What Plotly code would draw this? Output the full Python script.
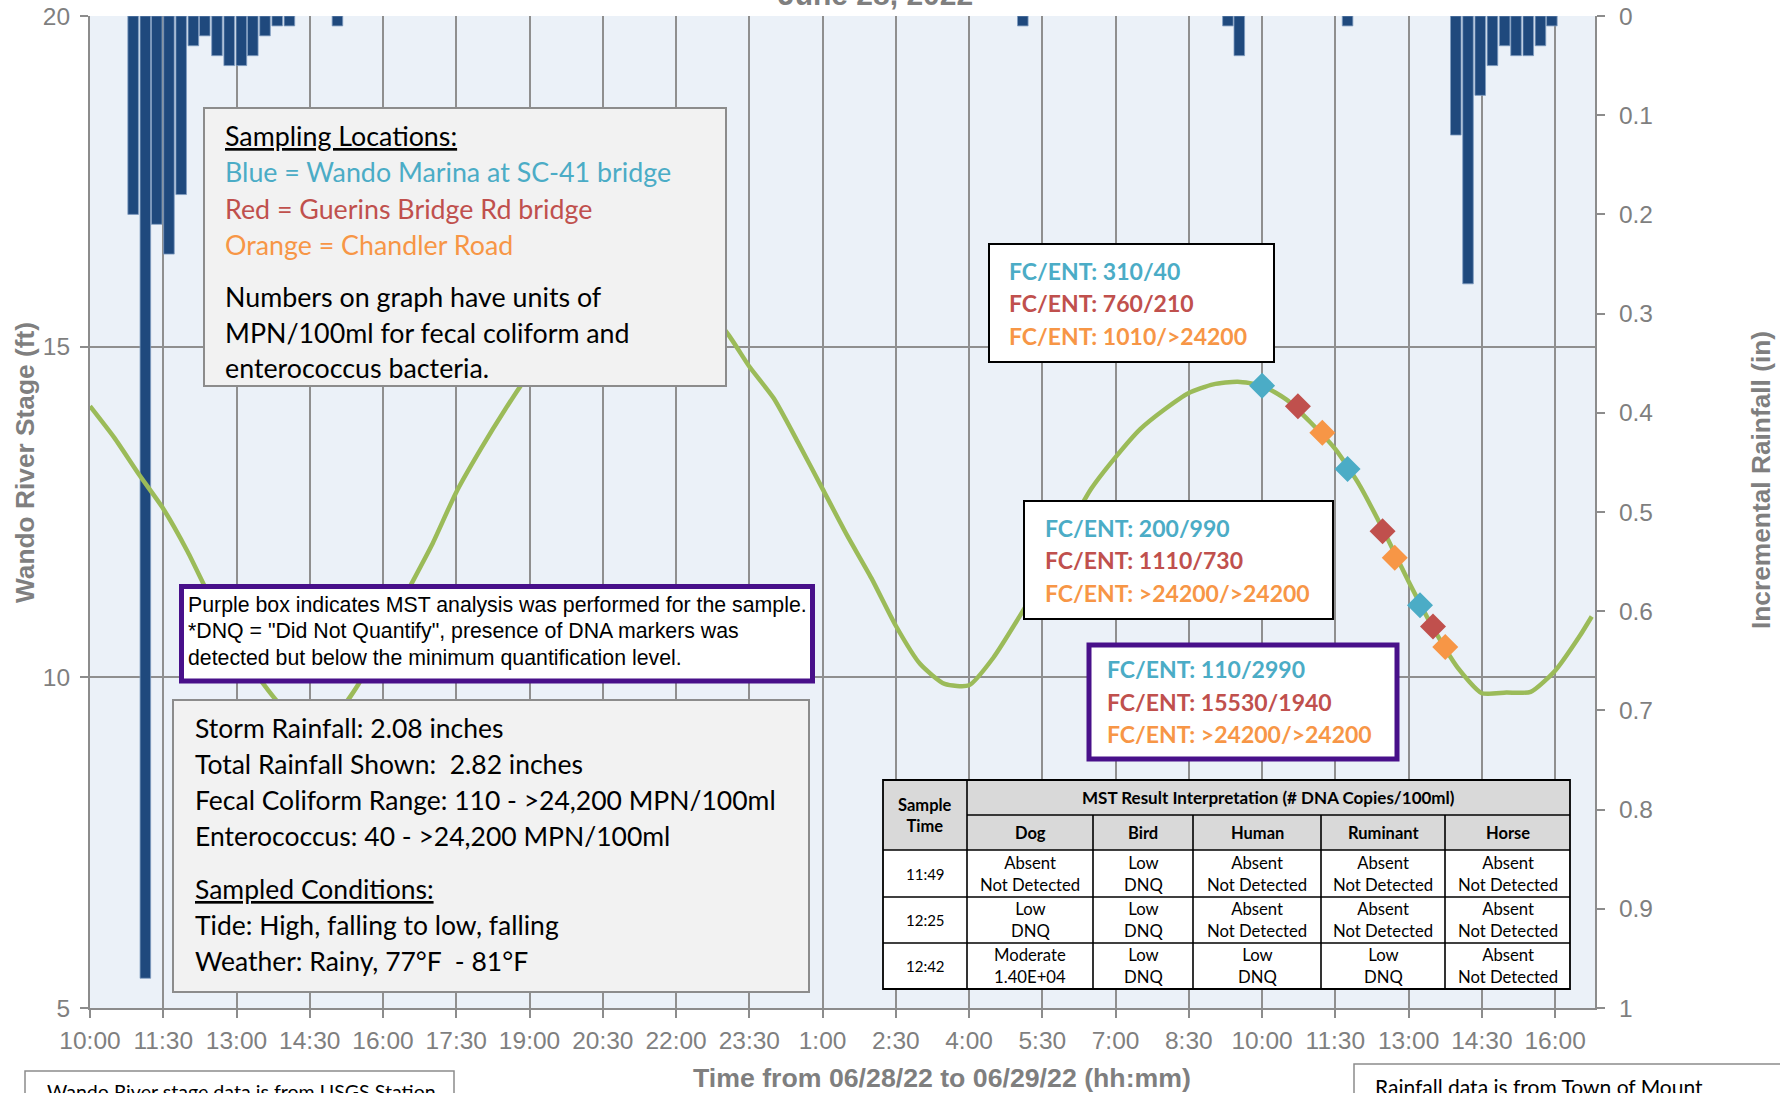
import plotly.graph_objects as go
import pandas as pd

# ---------------- data ----------------
DAY1, DAY2 = "2022-06-28", "2022-06-29"

stage_clock_day1 = ["10:00", "10:30", "11:00", "11:30", "12:00", "12:30", "13:00", "13:30",
                    "14:00", "14:30", "15:00", "15:30", "16:00", "16:30", "17:00", "17:30",
                    "18:00", "18:30", "19:00", "19:30", "20:00", "20:30", "21:00", "21:30",
                    "22:00", "22:30", "23:00", "23:30"]
stage_ft_day1 = [14.10, 13.62, 13.07, 12.55, 11.90, 11.15, 10.50, 9.95,
                 9.50, 9.25, 9.40, 9.90, 10.60, 11.30, 12.00, 12.80,
                 13.45, 14.05, 14.60, 15.05, 15.45, 15.70, 15.85, 15.85,
                 15.75, 15.55, 15.25, 14.70]
stage_clock_day2 = ["00:00", "00:30", "01:00", "01:30", "02:00", "02:30", "03:00", "03:30",
                    "04:00", "04:30", "05:00", "05:30", "06:00", "06:30", "07:00", "07:30",
                    "08:00", "08:30", "09:00", "09:30", "10:00", "10:30", "11:00", "11:30",
                    "12:00", "12:30", "13:00", "13:30", "14:00", "14:30", "15:00", "15:30",
                    "16:00", "16:30", "16:45"]
stage_ft_day2 = [14.22, 13.55, 12.85, 12.15, 11.50, 10.78, 10.20, 9.90,
                 9.88, 10.30, 10.88, 11.50, 12.20, 12.85, 13.33, 13.75,
                 14.05, 14.30, 14.43, 14.47, 14.41, 14.20, 13.85, 13.45,
                 12.90, 12.20, 11.45, 10.75, 10.15, 9.76, 9.77, 9.78,
                 10.10, 10.62, 10.92]

rain_clock_day1 = ["10:53", "11:08", "11:22", "11:37", "11:52", "12:07", "12:21", "12:36",
                   "12:51", "13:06", "13:20", "13:35", "13:50", "14:05", "15:04"]
rain_in_day1 = [0.20, 0.97, 0.21, 0.24, 0.18, 0.03, 0.02, 0.04,
                0.05, 0.05, 0.04, 0.02, 0.01, 0.01, 0.01]
rain_clock_day2 = ["05:06", "09:18", "09:32", "11:45", "13:58", "14:13", "14:28", "14:43",
                   "14:58", "15:12", "15:27", "15:42", "15:56"]
rain_in_day2 = [0.01, 0.01, 0.04, 0.01, 0.12, 0.27, 0.08, 0.05,
                0.03, 0.04, 0.04, 0.03, 0.01]

blue_clock = ["10:00", "11:45", "13:14"]
blue_ft = [14.41, 13.15, 11.09]
red_clock = ["10:44", "12:28", "13:30"]
red_ft = [14.10, 12.21, 10.77]
orange_clock = ["11:14", "12:43", "13:45"]
orange_ft = [13.70, 11.81, 10.46]

x_tick_labels = ["10:00", "11:30", "13:00", "14:30", "16:00", "17:30", "19:00", "20:30",
                 "22:00", "23:30", "1:00", "2:30", "4:00", "5:30", "7:00", "8:30",
                 "10:00", "11:30", "13:00", "14:30", "16:00"]
stage_ticks = [5, 10, 15, 20]
rain_ticks = [0, 0.1, 0.2, 0.3, 0.4, 0.5, 0.6, 0.7, 0.8, 0.9, 1]
rain_tick_labels = ["0", "0.1", "0.2", "0.3", "0.4", "0.5", "0.6", "0.7", "0.8", "0.9", "1"]

fc_ent_set1 = ["FC/ENT: 310/40", "FC/ENT: 760/210", "FC/ENT: 1010/>24200"]
fc_ent_set2 = ["FC/ENT: 200/990", "FC/ENT: 1110/730", "FC/ENT: >24200/>24200"]
fc_ent_set3 = ["FC/ENT: 110/2990", "FC/ENT: 15530/1940", "FC/ENT: >24200/>24200"]

legend_lines = ["<u>Sampling Locations:</u>", "Blue = Wando Marina at SC-41 bridge",
                "Red = Guerins Bridge Rd bridge", "Orange = Chandler Road",
                "Numbers on graph have units of", "MPN/100ml for fecal coliform and",
                "enterococcus bacteria."]
summary_lines = ["Storm Rainfall: 2.08 inches", "Total Rainfall Shown:  2.82 inches",
                 "Fecal Coliform Range: 110 - >24,200 MPN/100ml",
                 "Enterococcus: 40 - >24,200 MPN/100ml", "<u>Sampled Conditions:</u>",
                 "Tide: High, falling to low, falling", "Weather: Rainy, 77\u00b0F  - 81\u00b0F"]
mst_note_lines = ["Purple box indicates MST analysis was performed for the sample.",
                  "*DNQ = \"Did Not Quantify\", presence of DNA markers was",
                  "detected but below the minimum quantification level."]

table_title = "MST Result Interpretation (# DNA Copies/100ml)"
table_cols = ["Dog", "Bird", "Human", "Ruminant", "Horse"]
table_times = ["11:49", "12:25", "12:42"]
table_level = [["Absent", "Low", "Absent", "Absent", "Absent"],
               ["Low", "Low", "Absent", "Absent", "Absent"],
               ["Moderate", "Low", "Low", "Low", "Absent"]]
table_detail = [["Not Detected", "DNQ", "Not Detected", "Not Detected", "Not Detected"],
                ["DNQ", "DNQ", "Not Detected", "Not Detected", "Not Detected"],
                ["1.40E+04", "DNQ", "DNQ", "DNQ", "Not Detected"]]

# ---------------- styles / layout helpers ----------------
W, H = 1780, 1093
L, T, PW, PH = 90, 16, 1505, 992
BLUE, RED, ORANGE, PURPLE = "#4BACC6", "#C0504D", "#F79646", "#48108A"
GREEN, BAR = "#9BBB59", "#1F497D"
GRID, AXC, TXT = "#8F8F8F", "#8C8C8C", "#7F7F7F"
ARIAL = "Liberation Sans, Arial, sans-serif"
CAL = "Lato, Carlito, Calibri, sans-serif"


def X(px):
    return (px - L) / PW


def Y(py):
    return (T + PH - py) / PH


def stamp(day, clocks):
    return [f"{day} {c}" for c in clocks]


stage_x = stamp(DAY1, stage_clock_day1) + stamp(DAY2, stage_clock_day2)
stage_y = stage_ft_day1 + stage_ft_day2
rain_x = stamp(DAY1, rain_clock_day1) + stamp(DAY2, rain_clock_day2)
rain_y = rain_in_day1 + rain_in_day2
x_tickvals = pd.date_range(f"{DAY1} 10:00", periods=len(x_tick_labels), freq="90min")

fig = go.Figure()
fig.add_trace(go.Bar(x=rain_x, y=rain_y, yaxis="y", width=13 * 60 * 1000,
                     marker=dict(color=BAR, line=dict(color="#7F9CC0", width=0.8)),
                     hoverinfo="skip"))
fig.add_trace(go.Scatter(x=stage_x, y=stage_y, yaxis="y2", mode="lines",
                         line=dict(color=GREEN, width=4.5, shape="spline", smoothing=0.6),
                         hoverinfo="skip"))
for color, clocks, vals in [(BLUE, blue_clock, blue_ft), (RED, red_clock, red_ft),
                            (ORANGE, orange_clock, orange_ft)]:
    fig.add_trace(go.Scatter(x=stamp(DAY2, clocks), y=vals, yaxis="y2", mode="markers",
                             marker=dict(symbol="diamond", size=20, color=color),
                             hoverinfo="skip"))

shapes = []
annotations = []


def box(x0, y0, x1, y1, fill, line_color, lw):
    shapes.append(dict(type="rect", xref="paper", yref="paper",
                       x0=X(x0), x1=X(x1), y0=Y(y1), y1=Y(y0),
                       fillcolor=fill, line=dict(color=line_color, width=lw), layer="above"))


def text(px, py, s, size, color="black", family=CAL, xanchor="left", bold=False, angle=0):
    annotations.append(dict(x=X(px), y=Y(py), xref="paper", yref="paper", text=(f"<b>{s}</b>" if bold else s),
                            showarrow=False, xanchor=xanchor, yanchor="middle", align="center" if xanchor == "center" else "left",
                            textangle=angle, font=dict(family=family, size=size, color=color)))


# Sampling locations box
box(204, 108, 726, 386, "#F2F2F2", "#8C8C8C", 2)
legend_colors = ["black", BLUE, RED, ORANGE, "black", "black", "black"]
legend_y = [136, 172.5, 209, 244.5, 297, 332.7, 368]
for s, c, yy in zip(legend_lines, legend_colors, legend_y):
    text(223, yy, s, 26.8, c)

# FC/ENT boxes
for (bx0, by0, bx1, by1, lc, lw, tx0, tys, lines) in [
        (989, 244, 1274, 362, "black", 2, 1007, [270.7, 303.3, 336], fc_ent_set1),
        (1024, 501, 1333, 619, "black", 2, 1043, [528.3, 560, 592.7], fc_ent_set2),
        (1089, 645, 1397, 759, PURPLE, 5, 1105, [669.3, 701.7, 734], fc_ent_set3)]:
    box(bx0, by0, bx1, by1, "white", lc, lw)
    for s, c, yy in zip(lines, [BLUE, RED, ORANGE], tys):
        text(tx0, yy, s, 23, c, bold=True)

# MST note box
box(181.5, 586.5, 812.5, 681, "white", PURPLE, 5)
for s, yy in zip(mst_note_lines, [605, 631, 658]):
    text(186, yy, s, 21.3, "black", family=ARIAL)

# summary box
box(173, 700, 809, 992, "#F2F2F2", "#8C8C8C", 2)
for s, yy in zip(summary_lines, [728, 764, 800, 836, 888.5, 925, 960.5]):
    text(193, yy, s, 26.5, "black")

# MST table
tx = [883, 967, 1093, 1193, 1321, 1445, 1570]
ty = [780, 815, 850, 897, 943, 989]
box(tx[0], ty[0], tx[-1], ty[2], "#D9D9D9", "black", 0)
box(tx[0], ty[2], tx[-1], ty[-1], "white", "black", 0)
line_style = dict(color="black", width=1.6)
for yy, xa in [(ty[1], tx[1]), (ty[2], tx[0]), (ty[3], tx[0]), (ty[4], tx[0])]:
    shapes.append(dict(type="line", xref="paper", yref="paper", x0=X(xa), x1=X(tx[-1]),
                       y0=Y(yy), y1=Y(yy), line=line_style, layer="above"))
for i, xx in enumerate(tx[1:-1]):
    y_top = ty[0] if i == 0 else ty[1]
    shapes.append(dict(type="line", xref="paper", yref="paper", x0=X(xx), x1=X(xx),
                       y0=Y(y_top), y1=Y(ty[-1]), line=line_style, layer="above"))
box(tx[0], ty[0], tx[-1], ty[-1], "rgba(0,0,0,0)", "black", 1.8)
text((tx[0] + tx[1]) / 2, (ty[0] + ty[2]) / 2, "Sample<br>Time", 16.5, xanchor="center", bold=True)
text((tx[1] + tx[-1]) / 2, (ty[0] + ty[1]) / 2, table_title, 17, xanchor="center", bold=True)
for j, col in enumerate(table_cols):
    text((tx[j + 1] + tx[j + 2]) / 2, (ty[1] + ty[2]) / 2, col, 16.5, xanchor="center", bold=True)
for i, t in enumerate(table_times):
    yc = (ty[i + 2] + ty[i + 3]) / 2
    text((tx[0] + tx[1]) / 2, yc, t, 15, xanchor="center")
    for j in range(len(table_cols)):
        text((tx[j + 1] + tx[j + 2]) / 2, yc, f"{table_level[i][j]}<br>{table_detail[i][j]}", 16.7, xanchor="center")

# footnote boxes (cut by the bottom edge)
box(25, 1071, 454, 1110, "white", "#8C8C8C", 1.5)
text(45, 1091, "Wando River stage data is from USGS Station", 19.6)
box(1354, 1064, 1790, 1110, "white", "#8C8C8C", 1.5)
text(1373, 1086, "Rainfall data is from Town of Mount", 21)

# titles
annotations.append(dict(x=X(875), y=Y(13), xref="paper", yref="paper", text="<b>June 28, 2022</b>",
                        showarrow=False, xanchor="center", yanchor="bottom",
                        font=dict(family=ARIAL, size=30, color=TXT)))
text(942, 1078, "Time from 06/28/22 to 06/29/22 (hh:mm)", 26.7, TXT, family=ARIAL, xanchor="center", bold=True)
text(25, 463, "Wando River Stage (ft)", 26.3, TXT, family=ARIAL, xanchor="center", bold=True, angle=-90)
text(1761, 480, "Incremental Rainfall (in)", 26.3, TXT, family=ARIAL, xanchor="center", bold=True, angle=-90)

tickfont = dict(family=ARIAL, size=24.5, color=TXT)
fig.update_layout(
    width=W, height=H, margin=dict(l=L, r=W - L - PW, t=T, b=H - T - PH, pad=0, autoexpand=False),
    paper_bgcolor="white", plot_bgcolor="#EBF1F8", showlegend=False,
    xaxis=dict(type="date", range=[f"{DAY1} 10:00", f"{DAY2} 16:49"], tickvals=x_tickvals,
               ticktext=x_tick_labels, showgrid=True, gridcolor=GRID, gridwidth=2,
               showline=True, linecolor=AXC, linewidth=2, ticks="outside", ticklen=8,
               tickcolor=AXC, tickwidth=2, tickfont=tickfont, ticklabelstandoff=2,
               zeroline=False, automargin=False),
    yaxis=dict(range=[1, 0], side="right", tickvals=rain_ticks, ticktext=rain_tick_labels,
               showgrid=False, showline=True, linecolor=AXC, linewidth=2, ticks="outside",
               ticklen=8, tickcolor=AXC, tickwidth=2, tickfont=tickfont, ticklabelstandoff=9,
               zeroline=False, automargin=False),
    yaxis2=dict(range=[5, 20], overlaying="y", side="left", tickvals=stage_ticks,
                showgrid=True, gridcolor=GRID, gridwidth=2, showline=True, linecolor=AXC,
                linewidth=2, ticks="outside", ticklen=8, tickcolor=AXC, tickwidth=2,
                tickfont=tickfont, ticklabelstandoff=5, zeroline=False, automargin=False),
    shapes=shapes, annotations=annotations,
)

fig.write_html("out.html", config={"displayModeBar": False},
               post_script="document.body.style.margin='0';document.body.style.overflow='hidden';")
